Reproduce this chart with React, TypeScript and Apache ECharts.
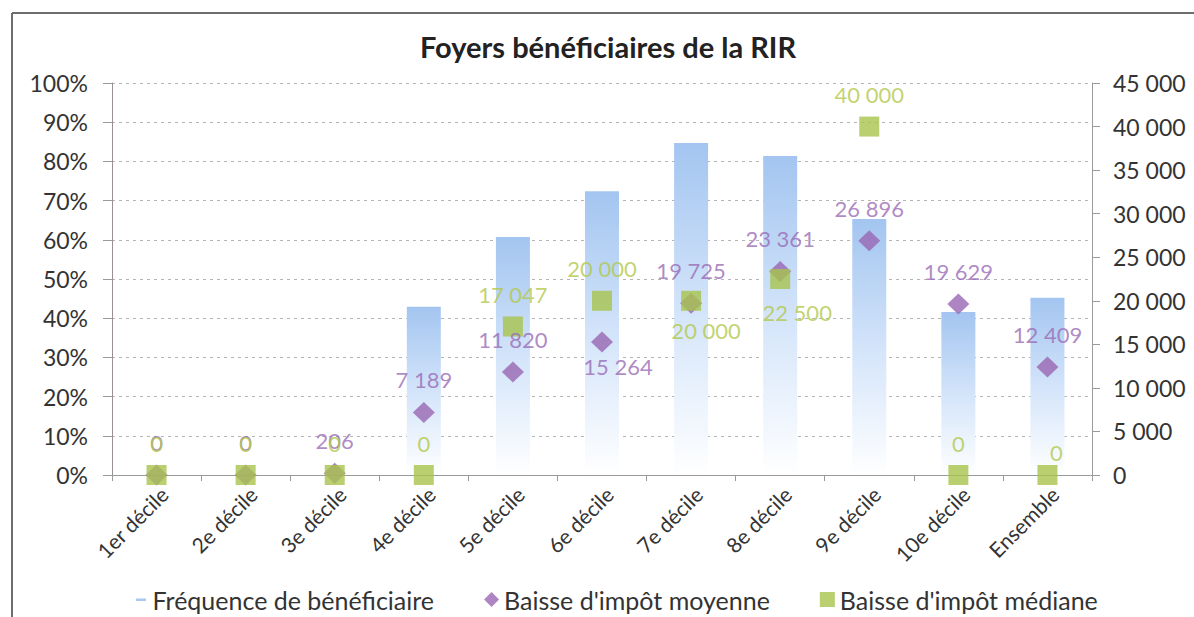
import React, { useEffect, useRef } from "react";
import * as echarts from "echarts";

const categories = [
  "1er décile",
  "2e décile",
  "3e décile",
  "4e décile",
  "5e décile",
  "6e décile",
  "7e décile",
  "8e décile",
  "9e décile",
  "10e décile",
  "Ensemble",
];
const frequence = [0, 0, 0, 42.9, 60.7, 72.4, 84.7, 81.4, 65.3, 41.6, 45.2];
const moyenne = [0, 0, 206, 7189, 11820, 15264, 19725, 23361, 26896, 19629, 12409];
const mediane = [0, 0, 0, 0, 17047, 20000, 20000, 22500, 40000, 0, 0];

const seriesNames = [
  "Fréquence de bénéficiaire",
  "Baisse d'impôt moyenne",
  "Baisse d'impôt médiane",
];
const chartTitle = "Foyers bénéficiaires de la RIR";

// label placement tweaks (index -> offset px)
const moyenneOffsets: Record<number, [number, number]> = { 5: [16, 57] };
const medianeOffsets: Record<number, [number, number]> = {
  6: [15, 62],
  7: [17, 65],
  10: [9, 9],
};

const FONT = "Lato";
const fmt = (v: number) =>
  String(Math.round(v)).replace(/\B(?=(\d{3})+(?!\d))/g, " ");

export default function App() {
  const ref = useRef<HTMLDivElement>(null);
  useEffect(() => {
    if (!ref.current) return;
    const chart = echarts.init(ref.current, null, { renderer: "svg" });
    const withOffsets = (arr: number[], offs: Record<number, [number, number]>) =>
      arr.map((v, i) => (offs[i] ? { value: v, label: { offset: offs[i] } } : v));

    chart.setOption({
      animation: false,
      backgroundColor: "#ffffff",
      textStyle: { fontFamily: FONT },
      title: {
        text: chartTitle,
        left: 420,
        top: 32,
        padding: 0,
        textStyle: { fontFamily: FONT, fontSize: 29, fontWeight: "bold", color: "#222" },
      },
      grid: { left: 112, right: 102, top: 83, bottom: 142 },
      legend: {
        left: 134,
        top: 587,
        padding: 0,
        itemGap: 50,
        itemWidth: 15,
        itemHeight: 15,
        textStyle: { fontFamily: FONT, fontSize: 25, color: "#333" },
        data: [
          {
            name: seriesNames[0],
            icon: "path://M0,0 L0,0 M0,15 L0,15 M2,6.5 L12,6.5 L12,9 L2,9 Z",
            itemStyle: { color: "#a9c9f1" },
          },
          { name: seriesNames[1], icon: "diamond" },
          { name: seriesNames[2], icon: "rect" },
        ],
      },
      xAxis: {
        type: "category",
        data: categories,
        boundaryGap: true,
        axisLine: { show: true, lineStyle: { color: "#9a9a9a", width: 1 } },
        axisTick: { show: true, interval: 0, length: 6, lineStyle: { color: "#9a9a9a" } },
        axisLabel: {
          interval: 0,
          rotate: 45,
          margin: 8,
          fontSize: 21,
          verticalAlign: "top",
          color: "#333",
          fontFamily: FONT,
        },
      },
      yAxis: [
        {
          type: "value",
          min: 0,
          max: 100,
          interval: 10,
          axisLine: { show: true, lineStyle: { color: "#9a8f94" } },
          axisTick: { show: true, length: 9, lineStyle: { color: "#9a9a9a" } },
          axisLabel: {
            formatter: "{value}%",
            fontSize: 23,
            margin: 24,
            color: "#333",
            fontFamily: FONT,
          },
          splitLine: {
            show: true,
            lineStyle: { color: "#b4b4b4", type: [3, 4], width: 1 },
          },
        },
        {
          type: "value",
          position: "right",
          min: 0,
          max: 45000,
          interval: 5000,
          axisLine: { show: true, lineStyle: { color: "#9a9a9a" } },
          axisTick: { show: true, length: 8, lineStyle: { color: "#9a9a9a" } },
          axisLabel: {
            formatter: (v: number) => fmt(v),
            fontSize: 23,
            margin: 21,
            color: "#333",
            fontFamily: FONT,
          },
          splitLine: { show: false },
        },
      ],
      series: [
        {
          name: seriesNames[0],
          type: "bar",
          yAxisIndex: 0,
          barWidth: 34,
          data: frequence,
          itemStyle: {
            color: new echarts.graphic.LinearGradient(0, 0, 0, 1, [
              { offset: 0, color: "#a3c5f0" },
              { offset: 0.5, color: "#d3e4fa" },
              { offset: 1, color: "#ffffff" },
            ]),
          },
        },
        {
          name: seriesNames[1],
          type: "scatter",
          yAxisIndex: 1,
          symbol: "diamond",
          symbolSize: [22, 21],
          itemStyle: { color: "#9966b3" },
          label: {
            show: true,
            position: "top",
            distance: 11,
            fontSize: 22,
            color: "#9a6bb5",
            fontFamily: FONT,
            formatter: (p: any) => fmt(p.value),
          },
          data: withOffsets(moyenne, moyenneOffsets),
        },
        {
          name: seriesNames[2],
          type: "scatter",
          yAxisIndex: 1,
          symbol: "rect",
          symbolSize: 20,
          itemStyle: { color: "#a8c34c" },
          label: {
            show: true,
            position: "top",
            distance: 11,
            fontSize: 22,
            color: "#b1c84a",
            fontFamily: FONT,
            formatter: (p: any) => fmt(p.value),
          },
          data: withOffsets(mediane, medianeOffsets),
        },
      ],
      graphic: [
        {
          type: "line",
          shape: { x1: 12, y1: 13, x2: 1194, y2: 13 },
          style: { stroke: "#6e6e6e", lineWidth: 2 },
          silent: true,
        },
        {
          type: "line",
          shape: { x1: 12, y1: 13, x2: 12, y2: 617 },
          style: { stroke: "#6e6e6e", lineWidth: 2 },
          silent: true,
        },
      ],
    });
    return () => chart.dispose();
  }, []);
  return (
    <div
      ref={ref}
      style={{ position: "fixed", left: 0, top: 0, width: 1194, height: 617, background: "#fff" }}
    />
  );
}
